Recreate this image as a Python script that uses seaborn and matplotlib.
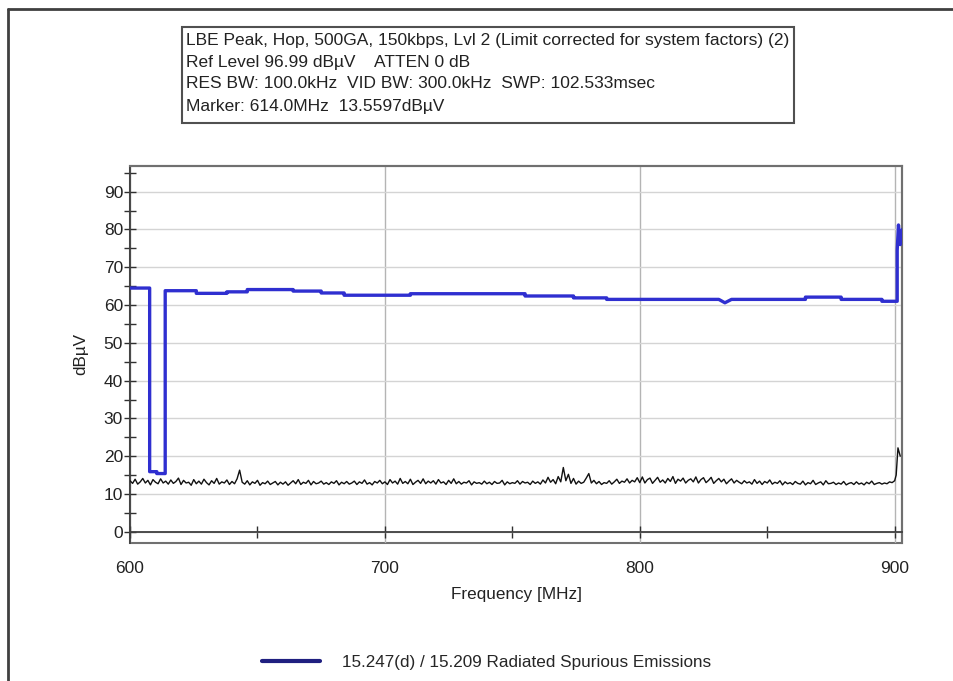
import numpy as np
import pandas as pd
import matplotlib
matplotlib.use("Agg")
import matplotlib.pyplot as plt
from matplotlib.lines import Line2D
from matplotlib.patches import Rectangle
from matplotlib.ticker import MultipleLocator
import seaborn as sns


# DATA

# limit line, stepped: frequency (MHz) and level (dBuV)
limit_freq = [600, 607.7, 607.7, 610.5, 610.5, 613.8, 613.8, 626, 626, 638, 638,
              646, 646, 664, 664, 675, 675, 684, 684, 710, 710, 755, 755, 774,
              774, 787, 787, 831, 833.4, 836, 865, 865, 879, 879, 895, 895,
              901, 901, 901.5, 902.2, 903]
limit_level = [64.5, 64.5, 15.9, 15.9, 15.4, 15.4, 63.8, 63.8, 63.1, 63.1, 63.5,
               63.5, 64.1, 64.1, 63.7, 63.7, 63.2, 63.2, 62.6, 62.6, 63.0, 63.0,
               62.4, 62.4, 61.9, 61.9, 61.5, 61.5, 60.6, 61.5, 61.5, 62.1, 62.1,
               61.5, 61.5, 61.0, 61.0, 74.5, 81.2, 76.0, 80.0]

# measured trace, 600..900 MHz every 1 MHz, then the edge peak
trace_start = 600
trace_values = [
    13.5, 12.8, 13.9, 12.6, 13.2, 14.1, 12.9, 13.6, 12.4, 13.8, 13.1, 12.7, 14.0, 12.9, 13.4, 12.6, 13.7, 12.8, 13.3, 14.2,
    12.5, 13.6, 12.9, 13.1, 12.3, 13.8, 12.7, 13.4, 12.6, 13.9, 13.0, 12.4, 13.5, 12.8, 14.1, 12.6, 13.2, 12.9, 13.7, 12.5,
    13.3, 12.7, 14.0, 16.3, 13.1, 12.6, 13.5, 12.4, 13.2, 12.8, 13.6, 12.3, 13.0, 12.7, 13.4, 12.5, 12.9, 13.3, 12.4, 13.1,
    12.6, 13.2, 12.3, 12.9, 13.5, 12.7, 13.8, 12.5, 13.1, 12.8, 13.6, 12.4, 13.3, 12.7, 12.9, 13.4, 12.6, 13.0, 12.5, 13.2,
    12.8, 13.5, 12.4, 13.1, 12.7, 13.3, 12.6, 12.9, 13.4, 12.5, 13.2, 12.8, 13.7, 12.6, 13.0, 12.4, 13.3, 12.9, 13.6, 12.7,
    13.2, 12.5, 13.8, 12.9, 13.4, 12.6, 14.1, 12.8, 13.3, 12.7, 13.9, 12.5, 13.1, 13.6, 12.8, 14.0, 12.7, 13.4, 12.9, 13.5,
    12.6, 13.8, 12.9, 13.2, 12.5, 13.6, 12.8, 14.0, 12.7, 13.3, 12.6, 13.1, 12.9, 13.5, 12.4, 13.2, 12.8, 13.0, 12.6, 13.4,
    12.7, 13.1, 12.5, 13.3, 12.8, 12.9, 13.6, 12.4, 13.2, 12.7, 13.0, 12.8, 13.5, 12.6, 13.3, 12.9, 13.1, 12.5, 13.4, 12.8,
    13.2, 12.6, 13.7, 12.9, 14.4, 13.1, 13.8, 12.7, 14.6, 13.2, 17.0, 13.5, 15.2, 12.8, 14.1, 12.6, 13.4, 12.8, 13.1, 14.2,
    15.4, 12.9, 13.6, 12.7, 13.3, 12.5, 13.0, 12.8, 13.5, 12.6, 13.2, 13.9, 12.8, 13.4, 13.1, 14.0, 12.9, 13.6, 13.2, 14.3,
    13.0, 14.5, 12.9, 13.8, 14.2, 12.8, 13.6, 14.4, 13.1, 13.7, 12.9, 14.1, 13.3, 14.6, 12.8, 13.9, 13.4, 14.2, 12.9, 13.6,
    14.0, 13.2, 14.5, 12.9, 13.8, 14.3, 13.0, 13.6, 14.4, 12.8, 13.5, 14.1, 13.2, 13.9, 12.7, 13.4, 14.0, 12.9, 13.6, 13.1,
    12.7, 13.5, 12.9, 13.2, 12.6, 13.8, 12.8, 13.4, 12.5, 13.3, 12.9, 13.7, 12.6, 13.1, 12.8, 13.5, 12.4, 13.2, 12.7, 13.0,
    12.5, 13.3, 12.8, 12.6, 13.4, 12.4, 13.0, 12.7, 13.6, 12.5, 12.9, 13.2, 12.4, 13.5, 12.7, 12.8, 13.1, 12.5, 12.9, 12.6,
    13.3, 12.4, 12.8, 13.0, 12.5, 13.2, 12.6, 12.9, 12.4, 13.1, 12.7, 13.4, 12.5, 12.8, 13.0, 12.6, 12.9, 12.7, 13.2, 13.0,
    13.5,
]
edge_freq = [900.6, 901.3, 902.2]
edge_values = [15.0, 22.2, 20.0]

header_lines = [
    "LBE Peak, Hop, 500GA, 150kbps, Lvl 2 (Limit corrected for system factors) (2)",
    "Ref Level 96.99 dB\u00b5V    ATTEN 0 dB",
    "RES BW: 100.0kHz  VID BW: 300.0kHz  SWP: 102.533msec",
    "Marker: 614.0MHz  13.5597dB\u00b5V",
]
legend_label = "15.247(d) / 15.209 Radiated Spurious Emissions"


# BUILD FRAMES
trace_freq = [trace_start + i for i in range(len(trace_values))] + edge_freq
trace = pd.DataFrame({"freq": trace_freq, "level": trace_values + edge_values})
limit = pd.DataFrame({"freq": limit_freq, "level": limit_level})


# PLOT
sns.set_style("white")
plt.rcParams["font.family"] = ["Liberation Sans", "DejaVu Sans"]

fig = plt.figure(figsize=(9.54, 6.81), dpi=100)
ax = fig.add_axes([0.1363, 0.2031, 0.8095, 0.5531])

sns.lineplot(data=trace, x="freq", y="level", ax=ax, color="#111111",
             linewidth=1.0, estimator=None, sort=False, zorder=3)
sns.lineplot(data=limit, x="freq", y="level", ax=ax, color="#2f2fd0",
             linewidth=2.4, estimator=None, sort=False, zorder=4)

ax.set_xlim(600, 903)
ax.set_ylim(-2.9, 96.8)

ax.xaxis.set_major_locator(MultipleLocator(100))
ax.xaxis.set_minor_locator(MultipleLocator(50))
ax.yaxis.set_major_locator(MultipleLocator(10))
ax.yaxis.set_minor_locator(MultipleLocator(5))

ax.yaxis.grid(True, which="major", color="#d4d4d4", linewidth=1.0)
ax.xaxis.grid(True, which="major", color="#b4b4b4", linewidth=1.0)
ax.set_axisbelow(True)

# bottom axis sits on the 0 dB line, frame drawn by the axes patch
ax.spines["bottom"].set_position(("data", 0))
for s in ["left", "bottom"]:
    ax.spines[s].set_color("#404040")
    ax.spines[s].set_linewidth(1.3)
for s in ["top", "right"]:
    ax.spines[s].set_color("#707070")
    ax.spines[s].set_linewidth(1.5)
ax.patch.set_edgecolor("#707070")
ax.patch.set_linewidth(1.5)

ax.tick_params(axis="both", which="both", direction="inout", color="#303030",
               length=8, width=1, labelsize=12.5, labelcolor="#222222",
               left=True, bottom=True)
ax.tick_params(axis="y", which="major", pad=1)
ax.tick_params(axis="x", which="major", pad=17)

ax.set_xlabel("Frequency [MHz]", fontsize=12.3, color="#222222")
ax.set_ylabel("dB\u00b5V", fontsize=12.3, color="#222222")
ax.xaxis.set_label_coords(0.5, -0.118)
ax.yaxis.set_label_coords(-0.0545, 0.5)
ax.xaxis.label.set_va("top")

# header box
W, H = 954, 681
fig.add_artist(Rectangle((182 / W, 1 - 123 / H), 612 / W, 96 / H,
                         transform=fig.transFigure, fill=False,
                         edgecolor="#505050", linewidth=1.5))
for i, line in enumerate(header_lines):
    fig.text(186 / W, 1 - (40 + 22 * i) / H, line, fontsize=12.5,
             color="#222222", va="center", ha="left")

# legend
handle = Line2D([], [], color="#1f1f80", linewidth=3)
fig.legend(handles=[handle], labels=[legend_label], loc="center left",
           bbox_to_anchor=(262 / W, 1 - 662 / H), frameon=False,
           borderpad=0, borderaxespad=0, handlelength=3.4, handletextpad=1.3,
           fontsize=12.3)

# screenshot border (left and top)
fig.add_artist(Line2D([8 / W, 8 / W], [0, 1 - 9 / H], transform=fig.transFigure,
                      color="#404040", linewidth=2))
fig.add_artist(Line2D([8 / W, 1], [1 - 9 / H, 1 - 9 / H], transform=fig.transFigure,
                      color="#404040", linewidth=2))

fig.savefig("out.png", dpi=100)
